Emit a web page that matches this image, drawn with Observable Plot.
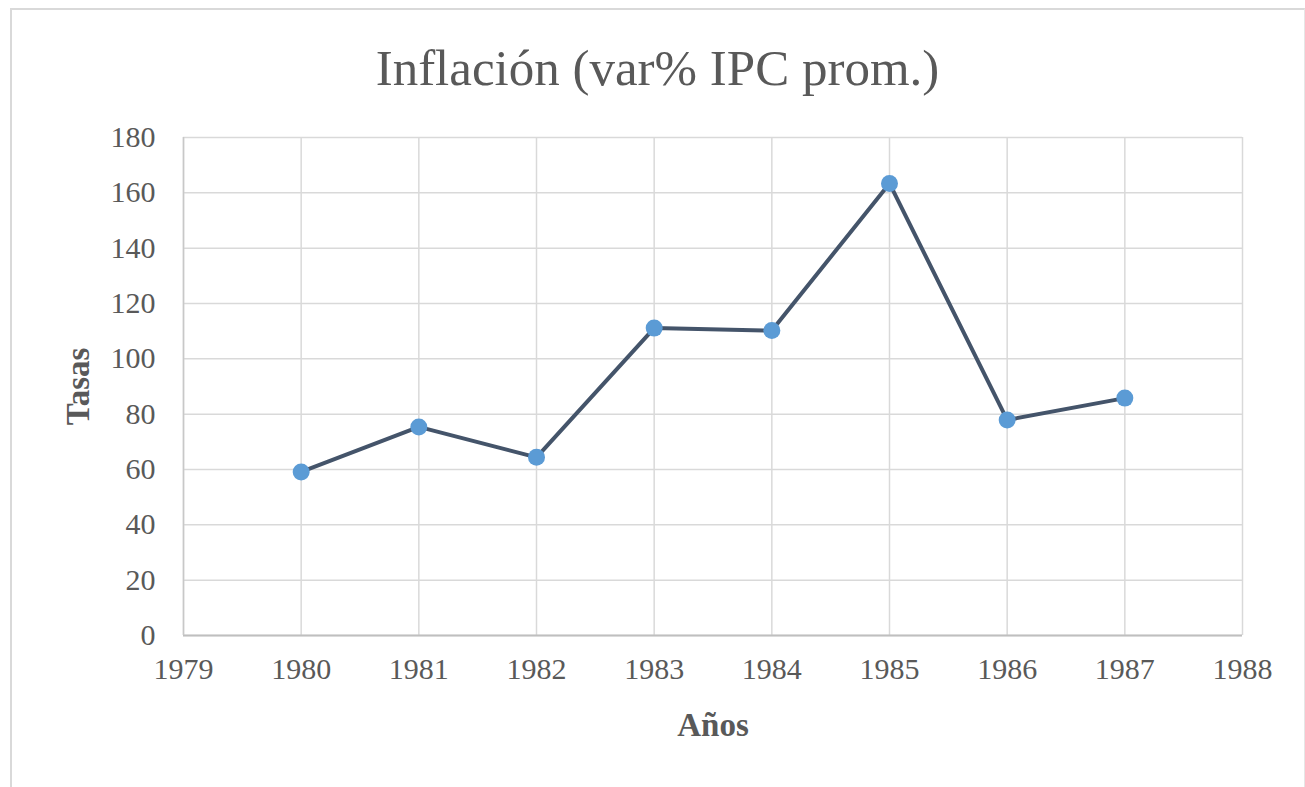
<!DOCTYPE html>
<html>
<head>
<meta charset="utf-8">
<script src="https://cdn.jsdelivr.net/npm/d3@7"></script>
<script src="https://cdn.jsdelivr.net/npm/@observablehq/plot@0.6"></script>
<style>
  html, body { margin: 0; padding: 0; background: #fff; }
  #wrap { position: relative; width: 1305px; height: 787px; overflow: hidden; background: #fff; }
  #border { position: absolute; left: 10px; top: 8px; width: 1292px; height: 800px;
            border-top: 2px solid #d9d9d9; border-left: 2px solid #d9d9d9; border-right: 1px solid #e6e6e6; }
  #title { position: absolute; left: 10px; width: 1295px; top: 36px; text-align: center;
           font-family: "Liberation Serif", "Times New Roman", serif; font-size: 51px; color: #595959;
           line-height: 64px; }
  #chart { position: absolute; left: 0; top: 110px; }
  #chart svg text { font-family: "Liberation Serif", "Times New Roman", serif; }
</style>
</head>
<body>
<div id="wrap">
  <div id="border"></div>
  <div id="title"></div>
  <div id="chart"></div>
</div>
<script>
const titleText = "Inflación (var% IPC prom.)";
const xLabel = "Años";
const yLabel = "Tasas";
const years = [1980, 1981, 1982, 1983, 1984, 1985, 1986, 1987];
const inflation = [59.1, 75.4, 64.4, 111.1, 110.2, 163.4, 77.9, 85.8];
const xTicks = [1979, 1980, 1981, 1982, 1983, 1984, 1985, 1986, 1987, 1988];
const yTicks = [0, 20, 40, 60, 80, 100, 120, 140, 160, 180];

document.getElementById("title").textContent = titleText;

const data = years.map((y, i) => ({year: y, value: inflation[i]}));
const textColor = "#595959";

const chart = Plot.plot({
  width: 1305,
  height: 677,
  marginTop: 27,
  marginBottom: 152,
  marginLeft: 183,
  marginRight: 63,
  style: {background: "transparent", fontFamily: "Liberation Serif, serif"},
  x: {domain: [1979, 1988], ticks: xTicks, tickFormat: d => String(d)},
  y: {domain: [0, 180], ticks: yTicks},
  marks: [
    Plot.gridX(xTicks, {stroke: "#d9d9d9", strokeOpacity: 1, strokeWidth: 1.5}),
    Plot.gridY(yTicks, {stroke: "#d9d9d9", strokeOpacity: 1, strokeWidth: 1.5}),
    Plot.ruleY([0], {stroke: "#bfbfbf", strokeWidth: 2}),
    Plot.ruleX([1979], {stroke: "#c8c8c8", strokeWidth: 1.5}),
    Plot.axisX(xTicks, {tickSize: 0, tickPadding: 22, fontSize: 30, color: textColor, label: null, tickFormat: d => String(d)}),
    Plot.axisY(yTicks, {tickSize: 0, tickPadding: 28, fontSize: 30, color: textColor, label: null}),
    Plot.line(data, {x: "year", y: "value", stroke: "#44546a", strokeWidth: 4, strokeLinejoin: "round"}),
    Plot.dot(data, {x: "year", y: "value", r: 8.5, fill: "#5b9bd5", stroke: null}),
    Plot.text([yLabel], {text: d => d, frameAnchor: "left", textAnchor: "middle", dx: -105, rotate: -90, fontSize: 33, fontWeight: "bold", fill: textColor}),
    Plot.text([xLabel], {text: d => d, frameAnchor: "bottom", dy: 100, fontSize: 33, fontWeight: "bold", fill: textColor})
  ]
});
document.getElementById("chart").appendChild(chart);
</script>
</body>
</html>
